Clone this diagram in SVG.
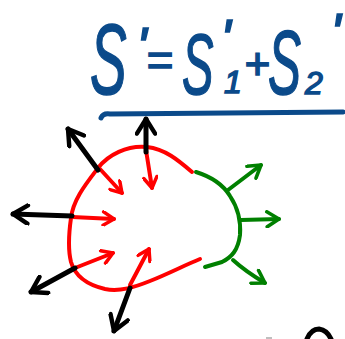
<svg xmlns="http://www.w3.org/2000/svg" width="345" height="339" viewBox="0 0 345 339">
<style>
.f{font-family:"Liberation Sans",Arial,sans-serif;font-style:italic;fill:#0b4a8a;stroke:#0b4a8a;stroke-width:1.5;}
.ln{fill:none;stroke-linecap:round;stroke-linejoin:round;}
.r{stroke:#ff0000;stroke-width:4;}
.g{stroke:#008000;stroke-width:4;}
.k{stroke:#000;stroke-width:5;}
.b{stroke:#0b4a8a;stroke-width:5;}
</style>
<defs>
<marker id="hr" viewBox="0 0 12 12" refX="10" refY="6" markerWidth="16" markerHeight="16" markerUnits="userSpaceOnUse" orient="auto"><path d="M2,1 L10,6 L2,11" fill="none" stroke="#ff0000" stroke-width="2.6" stroke-linecap="round" stroke-linejoin="round"/></marker>
<marker id="hg" viewBox="0 0 12 12" refX="10" refY="6" markerWidth="18" markerHeight="18" markerUnits="userSpaceOnUse" orient="auto"><path d="M2,1 L10,6 L2,11" fill="none" stroke="#008000" stroke-width="2.4" stroke-linecap="round" stroke-linejoin="round"/></marker>
<marker id="hk" viewBox="0 0 12 12" refX="10" refY="6" markerWidth="22" markerHeight="22" markerUnits="userSpaceOnUse" orient="auto"><path d="M2,1 L10,6 L2,11" fill="none" stroke="#000" stroke-width="2.4" stroke-linecap="round" stroke-linejoin="round"/></marker>
</defs>
<g id="formula">
<text class="f" transform="translate(90,94) scale(0.55,1)" font-size="100">S</text>
<text class="f" x="136" y="66" font-size="56">'</text>
<text class="f" x="146" y="76" font-size="46">=</text>
<text class="f" transform="translate(182,94) scale(0.55,1)" font-size="86">S</text>
<text class="f" x="220" y="58" font-size="56">'</text>
<text class="f" x="224" y="93" font-size="32">1</text>
<text class="f" x="244" y="79" font-size="44">+</text>
<text class="f" transform="translate(268,94) scale(0.55,1)" font-size="90">S</text>
<text class="f" x="305" y="94" font-size="32">2</text>
<text class="f" x="330" y="52" font-size="56">'</text>
<path class="ln b" d="M101,118 Q103,113 110,114 L343,112"/>
</g>
<g id="region">
<path class="ln r" d="M192,172 C178,160 165,149 147,147 C127,145 108,155 98,168 C85,185 73,200 71,218 C69,232 68,250 71,262 C75,276 88,285 105,289 C120,292 135,287 150,281 C170,273 185,265 200,259"/>
<path class="ln g" d="M196,172 C212,177 224,186 230,196 C238,208 241,222 240,235 C238,250 232,257 222,262 L205,267"/>
</g>
<g id="connectors">
<path class="ln g" marker-end="url(#hg)" d="M228,190 L261,165"/>
<path class="ln g" marker-end="url(#hg)" d="M241,220 L279,219"/>
<path class="ln g" marker-end="url(#hg)" d="M233,260 Q245,271 265,283"/>
<path class="ln r" marker-end="url(#hr)" d="M100,169 L122,193"/>
<path class="ln r" marker-end="url(#hr)" d="M146,150 L152,188"/>
<path class="ln r" marker-end="url(#hr)" d="M72,217 L114,219"/>
<path class="ln r" marker-end="url(#hr)" d="M75,268 L113,253"/>
<path class="ln r" marker-end="url(#hr)" d="M130,285 L149,249"/>
<path class="ln k" marker-end="url(#hk)" d="M98,170 L68,129"/>
<path class="ln k" marker-end="url(#hk)" d="M72,216 L13,214"/>
<path class="ln k" marker-end="url(#hk)" d="M75,268 L31,292"/>
<path class="ln k" marker-end="url(#hk)" d="M130,288 L114,331"/>
<path class="ln k" marker-end="url(#hk)" d="M146,152 L146,119"/>
</g>
<path class="ln k" stroke-width="4" d="M307,339 Q311,329 319,329 Q327,330 331,339"/>
<path d="M266,338 L272,338" stroke="#aaa" stroke-width="1.5"/>
</svg>
